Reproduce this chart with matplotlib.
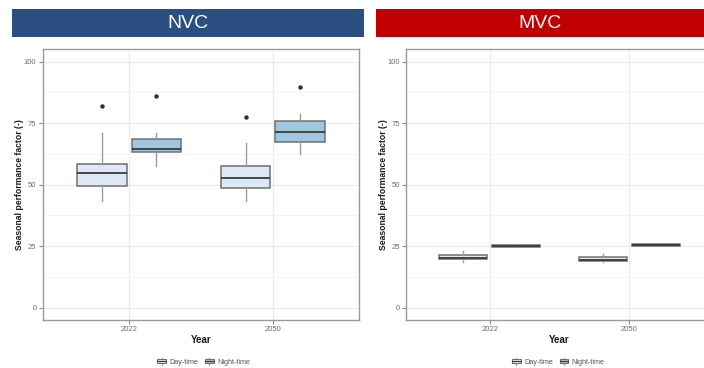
import matplotlib
matplotlib.use("Agg")
import matplotlib.pyplot as plt
from matplotlib.patches import Rectangle
from matplotlib.legend_handler import HandlerBase
from matplotlib.lines import Line2D

plt.rcParams['font.family'] = ['Liberation Sans', 'DejaVu Sans']

years = ["2022", "2050"]
periods = ["Day-time", "Night-time"]

# Box statistics per panel: [whisker low, q1, median, q3, whisker high] for (year, period)
nvc_day = [[43.5, 49.5, 54.6, 58.4, 70.9], [43.5, 48.8, 52.9, 57.5, 66.8]]
nvc_night = [[57.6, 63.3, 64.6, 68.6, 71.1], [62.5, 67.2, 71.5, 76.0, 78.7]]
nvc_day_out = [[82.1], [77.4]]
nvc_night_out = [[86.2], [89.8]]

mvc_day = [[18.7, 19.7, 20.2, 21.6, 23.0], [18.7, 18.8, 19.3, 20.6, 21.8]]
mvc_night = [[24.7, 24.8, 25.0, 25.4, 26.0], [25.1, 25.2, 25.4, 25.7, 25.9]]
mvc_day_out = [[], []]
mvc_night_out = [[], []]

y_ticks = [0, 25, 50, 75, 100]

fill_colors = {"Day-time": "#DCE8F5", "Night-time": "#9DC8E0"}
edge_col = "#707070"
median_col = "#3A3A3A"
whisker_col = "#9A9A9A"

W, H = 704, 368
fig = plt.figure(figsize=(W / 100, H / 100), dpi=100)


def to_stats(vals, outs, label):
    lo, q1, med, q3, hi = vals
    return dict(whislo=lo, q1=q1, med=med, q3=q3, whishi=hi, fliers=outs, label=label)


def draw_panel(rect, day, night, day_out, night_out):
    ax = fig.add_axes(rect)
    offsets = {"Day-time": -0.19, "Night-time": 0.19}
    series = {"Day-time": (day, day_out), "Night-time": (night, night_out)}
    for p in periods:
        vals, outs = series[p]
        stats = [to_stats(vals[i], outs[i], years[i]) for i in range(len(years))]
        pos = [i + 1 + offsets[p] for i in range(len(years))]
        ax.bxp(stats, positions=pos, widths=0.345, patch_artist=True,
               showcaps=False, manage_ticks=False,
               boxprops=dict(facecolor=fill_colors[p], edgecolor=edge_col, linewidth=1.1),
               medianprops=dict(color=median_col, linewidth=1.3),
               whiskerprops=dict(color=whisker_col, linewidth=1.0),
               flierprops=dict(marker='o', markersize=2.2, markerfacecolor='#333333',
                               markeredgecolor='#333333'),
               zorder=3)
    ax.set_xlim(0.4, 2.6)
    ax.set_ylim(-5, 105)
    ax.set_xticks([1, 2])
    ax.set_xticklabels(years)
    ax.set_yticks(y_ticks)
    ax.set_yticks([12.5, 37.5, 62.5, 87.5], minor=True)
    ax.grid(which='major', color='#EBEBEB', linewidth=0.8, zorder=0)
    ax.grid(which='minor', axis='y', color='#F2F2F2', linewidth=0.6, zorder=0)
    ax.set_axisbelow(True)
    ax.tick_params(axis='both', which='major', labelsize=5.5, labelcolor='#6B6B6B',
                   color='#8A8A8A', length=3, width=0.8, pad=1.5)
    ax.tick_params(axis='y', which='minor', length=0)
    for s in ax.spines.values():
        s.set_color('#9A9A9A')
        s.set_linewidth(1.0)
    ax.set_ylabel("Seasonal performance factor (-)", fontsize=6.2, fontweight='bold',
                  color='#1A1A1A')
    ax_w_px = rect[2] * W
    ax.yaxis.set_label_coords(-18.5 / ax_w_px, 0.5)
    ax.set_xlabel("Year", fontsize=7, fontweight='bold', color='#1A1A1A', labelpad=1.5)
    return ax


class BoxKeyHandler(HandlerBase):
    def __init__(self, color):
        super().__init__()
        self.color = color

    def create_artists(self, legend, orig_handle, xdescent, ydescent, width, height,
                       fontsize, trans):
        cx = -xdescent + width / 2
        y0 = -ydescent
        box = Rectangle((-xdescent + 0.5, y0 + height * 0.15), width - 1, height * 0.7,
                        facecolor=self.color, edgecolor=edge_col, linewidth=0.8,
                        transform=trans)
        wl = Line2D([cx, cx], [y0 - height * 0.1, y0 + height * 1.1], color=whisker_col,
                    linewidth=0.8, transform=trans)
        med = Line2D([-xdescent + 0.5, -xdescent + width - 0.5], [y0 + height / 2] * 2,
                     color=median_col, linewidth=0.8, transform=trans)
        return [wl, box, med]


def add_legend(xc):
    handles = [Rectangle((0, 0), 1, 1) for _ in periods]
    fig.legend(handles, periods, loc='center', bbox_to_anchor=(xc, 1 - 362 / H),
               ncol=2, frameon=False, fontsize=5.2, labelcolor='#555555',
               handlelength=1.4, handleheight=0.9, handletextpad=0.4, columnspacing=0.8,
               handler_map={handles[0]: BoxKeyHandler(fill_colors[periods[0]]),
                            handles[1]: BoxKeyHandler(fill_colors[periods[1]])})


def add_header(x0, x1, color, text):
    y0, y1 = 9.3, 37.3
    fig.patches.append(Rectangle((x0 / W, 1 - y1 / H), (x1 - x0) / W, (y1 - y0) / H,
                                 transform=fig.transFigure, facecolor=color,
                                 edgecolor='none', zorder=0))
    fig.text((x0 + x1) / 2 / W, 1 - (y0 + y1) / 2 / H, text, color='white', fontsize=14,
             ha='center', va='center')


bottom = 1 - 320 / H
height = (320 - 49.3) / H
draw_panel([42.7 / W, bottom, (359.3 - 42.7) / W, height],
           nvc_day, nvc_night, nvc_day_out, nvc_night_out)
draw_panel([406 / W, bottom, (713 - 406) / W, height],
           mvc_day, mvc_night, mvc_day_out, mvc_night_out)

add_header(11.7, 364.3, '#2B4F81', 'NVC')
add_header(376, 704, '#C00000', 'MVC')

add_legend(203.5 / W)
add_legend(558 / W)

fig.savefig("out.png", dpi=100)
